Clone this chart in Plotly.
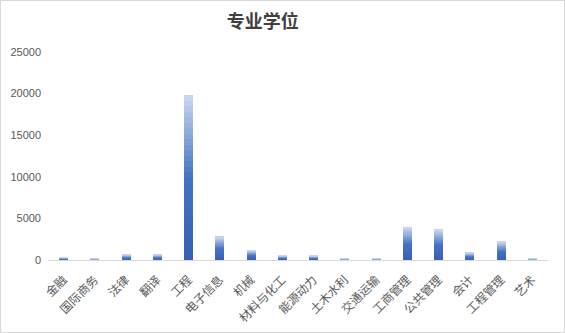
import plotly.graph_objects as go

categories = ["金融", "国际商务", "法律", "翻译", "工程", "电子信息", "机械", "材料与化工",
              "能源动力", "土木水利", "交通运输", "工商管理", "公共管理", "会计", "工程管理", "艺术"]
values = [300, 150, 650, 650, 19800, 2800, 1200, 520, 500, 150, 150, 3900, 3650, 880, 2200, 150]
y_ticks = [0, 5000, 10000, 15000, 20000, 25000]
title_text = "专业学位"

W, H = 565, 333
ML, MR, MT, MB = 48, 17, 52, 73

# gradient stops (fraction of bar height from bottom, rgb)
stops = [(0.0, (56, 95, 182)), (0.5, (68, 114, 196)), (1.0, (203, 216, 240))]


def color_at(t):
    for (t0, c0), (t1, c1) in zip(stops[:-1], stops[1:]):
        if t0 <= t <= t1:
            f = (t - t0) / (t1 - t0)
            c = [round(a + (b - a) * f) for a, b in zip(c0, c1)]
            return "rgb(%d,%d,%d)" % tuple(c)
    return "rgb(%d,%d,%d)" % stops[-1][1]


N = 30
fig = go.Figure()
for i in range(N):
    fig.add_trace(go.Bar(
        x=categories,
        y=[v / N for v in values],
        marker=dict(color=color_at((i + 0.5) / N), line=dict(width=0)),
        showlegend=False,
        hoverinfo="skip",
    ))

pw = W - ML - MR
ph = H - MT - MB
fig.add_shape(type="rect", xref="paper", yref="paper",
              x0=(0.5 - ML) / pw, x1=(W - 0.5 - ML) / pw,
              y0=-(H - 0.5 - MT - ph) / ph, y1=(MT + ph - 0.5) / ph,
              line=dict(color="#D9D9D9", width=1), fillcolor="rgba(0,0,0,0)")

fig.update_layout(
    width=W, height=H,
    margin=dict(l=ML, r=MR, t=MT, b=MB, autoexpand=False),
    barmode="stack",
    bargap=0.71,
    plot_bgcolor="white",
    paper_bgcolor="white",
    title=dict(text="<b>" + title_text + "</b>", x=0.465, xanchor="center", y=0.935, yanchor="middle",
               font=dict(family="Noto Sans CJK SC", size=18, color="#404040")),
    xaxis=dict(showline=True, linecolor="#D9D9D9", linewidth=1, ticks="", tickangle=-45,
               tickfont=dict(family="Noto Sans CJK SC", size=12, color="#595959"),
               ticklabelstandoff=7, showgrid=False, automargin=False),
    yaxis=dict(range=[0, 25000], tickvals=y_ticks, tickformat="d", showline=False, showgrid=False,
               zeroline=False, tickfont=dict(family="Liberation Sans", size=11, color="#595959"),
               ticks="", ticklabelstandoff=6, automargin=False),
)

fig.write_html("out.html")
